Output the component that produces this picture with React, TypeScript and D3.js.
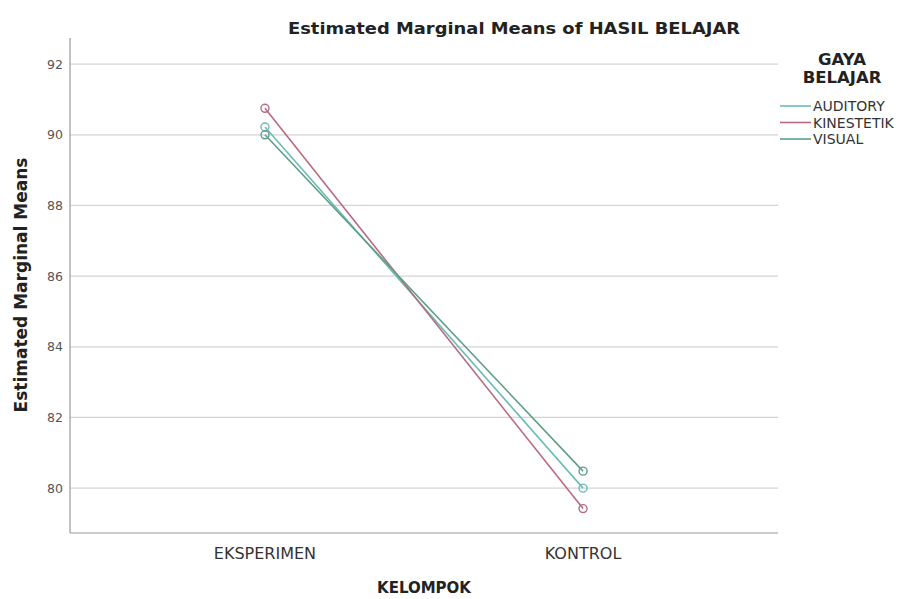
import React from "react";
import * as d3 from "d3";

const categories = ["EKSPERIMEN", "KONTROL"];
const seriesNames = ["AUDITORY", "KINESTETIK", "VISUAL"];
const auditory = [90.22, 80.0];
const kinestetik = [90.75, 79.42];
const visual = [90.0, 80.48];
const yTicks = [80, 82, 84, 86, 88, 90, 92];
const colors = ["#6bbcb4", "#b86a80", "#5e9e86"];

const W = 902;
const H = 599;
const left = 70;
const right = 778;
const top = 38;
const bottom = 533;

export default function App() {
  const y = d3.scaleLinear().domain([78.73, 92.74]).range([bottom, top]);
  const x = d3.scalePoint<string>().domain(categories).range([left, right]).padding(0.613);
  const allSeries = [auditory, kinestetik, visual];
  const line = d3
    .line<number>()
    .x((_, i) => x(categories[i]) as number)
    .y((d) => y(d));
  const font = "'DejaVu Sans', 'Open Sans', sans-serif";
  return (
    <svg
      width={W}
      height={H}
      style={{ position: "absolute", left: 0, top: 0, background: "#fff" }}
      fontFamily={font}
    >
      <text
        x={514}
        y={34}
        textAnchor="middle"
        fontSize={16}
        fontWeight="bold"
        fill="#222"
        textLength={452}
        lengthAdjust="spacingAndGlyphs"
      >
        Estimated Marginal Means of HASIL BELAJAR
      </text>
      {yTicks.map((t) => (
        <g key={t}>
          <line x1={left} x2={right} y1={y(t)} y2={y(t)} stroke="#d4d4d4" strokeWidth={1.2} />
          <text x={63} y={y(t) + 4.5} textAnchor="end" fontSize={12.5} fill="#555">
            {t}
          </text>
        </g>
      ))}
      <line x1={left} x2={left} y1={top} y2={bottom} stroke="#999" strokeWidth={1.2} />
      <line x1={left} x2={right} y1={bottom} y2={bottom} stroke="#999" strokeWidth={1.2} />
      {categories.map((c) => (
        <text key={c} x={x(c)} y={559} textAnchor="middle" fontSize={16} fill="#333">
          {c}
        </text>
      ))}
      <text x={(left + right) / 2} y={593} textAnchor="middle" fontSize={15} fontWeight="bold" fill="#222">
        KELOMPOK
      </text>
      <text
        transform={`translate(27,285) rotate(-90)`}
        textAnchor="middle"
        fontSize={17}
        fontWeight="bold"
        fill="#222"
      >
        Estimated Marginal Means
      </text>
      {allSeries.map((s, k) => (
        <g key={seriesNames[k]}>
          <path d={line(s) || ""} fill="none" stroke={colors[k]} strokeWidth={1.6} />
          {s.map((v, i) => (
            <circle
              key={i}
              cx={x(categories[i])}
              cy={y(v)}
              r={4}
              fill="none"
              stroke={colors[k]}
              strokeWidth={1.4}
            />
          ))}
        </g>
      ))}
      <text x={842} y={65} textAnchor="middle" fontSize={16.5} fontWeight="bold" fill="#222">
        GAYA
      </text>
      <text x={842} y={83} textAnchor="middle" fontSize={16.5} fontWeight="bold" fill="#222">
        BELAJAR
      </text>
      {seriesNames.map((n, k) => (
        <g key={n}>
          <line x1={780} x2={811} y1={106 + k * 16.5} y2={106 + k * 16.5} stroke={colors[k]} strokeWidth={1.6} />
          <text x={813} y={111 + k * 16.5} fontSize={14} fill="#333">
            {n}
          </text>
        </g>
      ))}
    </svg>
  );
}
